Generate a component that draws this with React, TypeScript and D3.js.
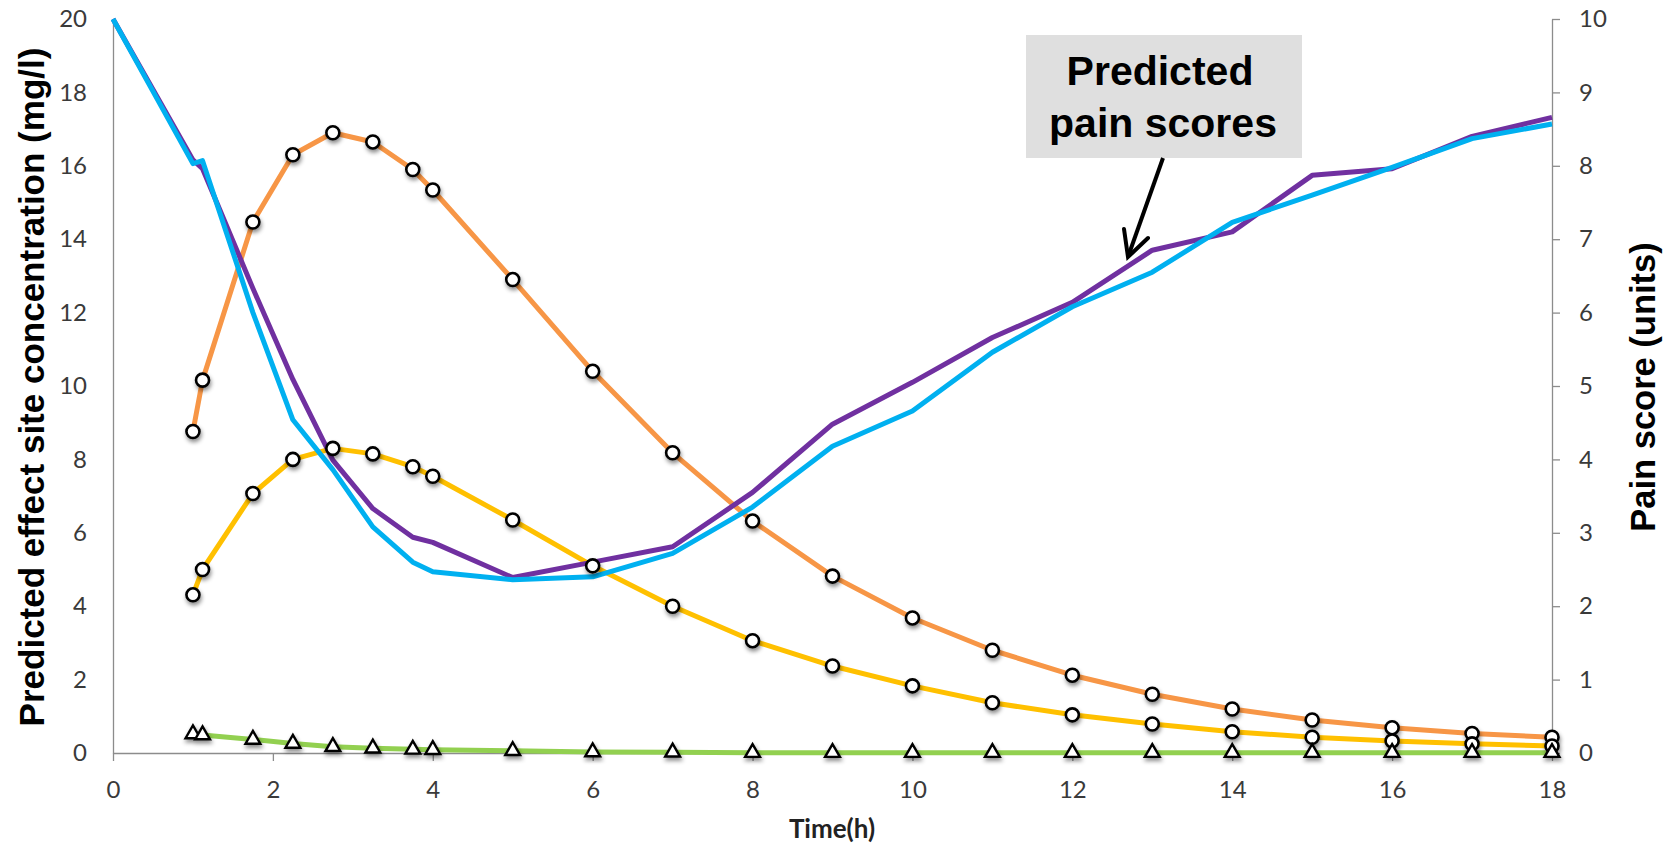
import { useEffect, useRef } from "react";
import * as d3 from "d3";

// sampling times (h)
const doseTimes = [1, 1.12, 1.75, 2.25, 2.75, 3.25, 3.75, 4, 5, 6, 7, 8, 9, 10, 11, 12, 13, 14, 15, 16, 17, 18];
const painTimes = [0, 1, 1.12, 1.75, 2.25, 2.75, 3.25, 3.75, 4, 5, 6, 7, 8, 9, 10, 11, 12, 13, 14, 15, 16, 17, 18];

// effect site concentrations (mg/l), left axis
const concHigh = [8.76, 10.16, 14.47, 16.3, 16.9, 16.65, 15.9, 15.34, 12.9, 10.4, 8.18, 6.32, 4.82, 3.68, 2.8, 2.12, 1.6, 1.2, 0.9, 0.69, 0.53, 0.43];
const concMid = [4.31, 5.0, 7.07, 8.0, 8.3, 8.15, 7.8, 7.54, 6.35, 5.1, 4.0, 3.06, 2.37, 1.83, 1.37, 1.04, 0.79, 0.58, 0.43, 0.33, 0.25, 0.19];
const concLow = [0.52, 0.49, 0.37, 0.26, 0.17, 0.13, 0.1, 0.09, 0.06, 0.03, 0.02, 0.01, 0.01, 0.01, 0.01, 0.01, 0.01, 0.01, 0.01, 0.01, 0.01, 0.01];

// predicted pain scores (units), right axis
const painA = [10, 8.08, 7.96, 6.33, 5.09, 3.99, 3.33, 2.94, 2.87, 2.39, 2.6, 2.81, 3.55, 4.48, 5.05, 5.66, 6.14, 6.85, 7.1, 7.87, 7.96, 8.4, 8.66];
const painB = [10, 8.03, 8.07, 6.0, 4.54, 3.86, 3.08, 2.6, 2.47, 2.36, 2.4, 2.72, 3.35, 4.18, 4.66, 5.46, 6.08, 6.55, 7.23, 7.6, 7.98, 8.37, 8.57];

const xTicks = [0, 2, 4, 6, 8, 10, 12, 14, 16, 18];
const leftTicks = [0, 2, 4, 6, 8, 10, 12, 14, 16, 18, 20];
const rightTicks = [0, 1, 2, 3, 4, 5, 6, 7, 8, 9, 10];

const W = 1675, H = 850;
const left = 113, right = 1552, top = 19, bottom = 753;

export default function App() {
    const ref = useRef(null);

    useEffect(() => {
        const svg = d3.select(ref.current);
        svg.selectAll("*").remove();

        const x = d3.scaleLinear().domain([0, 18]).range([left, right]);
        const yL = d3.scaleLinear().domain([0, 20]).range([bottom, top]);
        const yR = d3.scaleLinear().domain([0, 10]).range([bottom, top]);

        const defs = svg.append("defs");
        const f = defs.append("filter").attr("id", "shadow")
            .attr("x", "-50%").attr("y", "-50%").attr("width", "200%").attr("height", "200%");
        f.append("feDropShadow").attr("dx", 1).attr("dy", 3).attr("stdDeviation", 2)
            .attr("flood-color", "#000").attr("flood-opacity", 0.45);

        const tickFont = "Lato, 'Open Sans', sans-serif";

        // axes
        const gl = svg.append("g").attr("transform", `translate(${left},0)`)
            .call(d3.axisLeft(yL).tickValues(leftTicks).tickSize(0).tickPadding(26));
        const gb = svg.append("g").attr("transform", `translate(0,${bottom})`)
            .call(d3.axisBottom(x).tickValues(xTicks).tickSizeInner(8).tickSizeOuter(0).tickPadding(20));
        const gr = svg.append("g").attr("transform", `translate(${right},0)`)
            .call(d3.axisRight(yR).tickValues(rightTicks).tickSizeInner(8).tickSizeOuter(0).tickPadding(19));

        [gl, gb, gr].forEach(g => {
            g.select(".domain").attr("stroke", "#8c8c8c").attr("stroke-width", 1.3);
            g.selectAll(".tick line").attr("stroke", "#8c8c8c").attr("stroke-width", 1.3);
            g.selectAll(".tick text").attr("fill", "#3a3a3a").style("font-family", tickFont).style("font-size", "24px");
        });

        // lines
        const concLine = (vals) => d3.line().x((d, i) => x(doseTimes[i])).y(d => yL(d))(vals);
        const painLine = (vals) => d3.line().x((d, i) => x(painTimes[i])).y(d => yR(d))(vals);

        const lines = [
            { path: concLine(concHigh), color: "#F79646" },
            { path: concLine(concMid), color: "#FFC000" },
            { path: concLine(concLow), color: "#92D050" },
            { path: painLine(painA), color: "#7030A0" },
            { path: painLine(painB), color: "#00B0F0" },
        ];
        svg.append("g").selectAll("path").data(lines).join("path")
            .attr("d", d => d.path)
            .attr("fill", "none")
            .attr("stroke", d => d.color)
            .attr("stroke-width", 5)
            .attr("stroke-linejoin", "round");

        // markers
        const mk = svg.append("g").attr("filter", "url(#shadow)");
        [concHigh, concMid].forEach(vals => {
            mk.append("g").selectAll("circle").data(vals).join("circle")
                .attr("cx", (d, i) => x(doseTimes[i]))
                .attr("cy", d => yL(d))
                .attr("r", 6.5)
                .attr("fill", "#fff")
                .attr("stroke", "#000")
                .attr("stroke-width", 2.6);
        });
        const tri = d3.symbol().type(d3.symbolTriangle).size(95);
        mk.append("g").selectAll("path").data(concLow).join("path")
            .attr("d", tri)
            .attr("transform", (d, i) => `translate(${x(doseTimes[i])},${yL(d)})`)
            .attr("fill", "#fff")
            .attr("stroke", "#000")
            .attr("stroke-width", 2.4);

        // axis titles
        const titleFont = "'Liberation Sans', Arial, sans-serif";
        svg.append("text")
            .attr("transform", `translate(31, ${(top + bottom) / 2 + 1}) rotate(-90)`)
            .attr("text-anchor", "middle").attr("dominant-baseline", "central")
            .style("font-family", titleFont).style("font-weight", "bold").style("font-size", "35px")
            .text("Predicted effect site concentration (mg/l)");
        svg.append("text")
            .attr("transform", `translate(1643, 387) rotate(-90)`)
            .attr("text-anchor", "middle").attr("dominant-baseline", "central")
            .style("font-family", titleFont).style("font-weight", "bold").style("font-size", "34.5px")
            .text("Pain score (units)");
        svg.append("text")
            .attr("x", 832).attr("y", 838)
            .attr("text-anchor", "middle")
            .attr("fill", "#222")
            .style("font-family", tickFont).style("font-weight", "bold").style("font-size", "26px")
            .text("Time(h)");

        // annotation
        const ann = svg.append("g");
        ann.append("rect").attr("x", 1026).attr("y", 35).attr("width", 276).attr("height", 123).attr("fill", "#dfdfdf");
        ann.append("text").attr("x", 1160).attr("y", 85).attr("text-anchor", "middle")
            .style("font-family", titleFont).style("font-weight", "bold").style("font-size", "41px")
            .text("Predicted");
        ann.append("text").attr("x", 1163).attr("y", 137).attr("text-anchor", "middle")
            .style("font-family", titleFont).style("font-weight", "bold").style("font-size", "41px")
            .text("pain scores");
        ann.append("line").attr("x1", 1163).attr("y1", 158).attr("x2", 1129).attr("y2", 254)
            .attr("stroke", "#000").attr("stroke-width", 4);
        ann.append("polyline").attr("points", "1124,229 1128,257 1148,238")
            .attr("fill", "none").attr("stroke", "#000").attr("stroke-width", 4)
            .attr("stroke-linejoin", "miter").attr("stroke-linecap", "round");
    }, []);

    return (
        <svg ref={ref} width={W} height={H}
            style={{ position: "absolute", left: 0, top: 0, display: "block", background: "#fff" }} />
    );
}
